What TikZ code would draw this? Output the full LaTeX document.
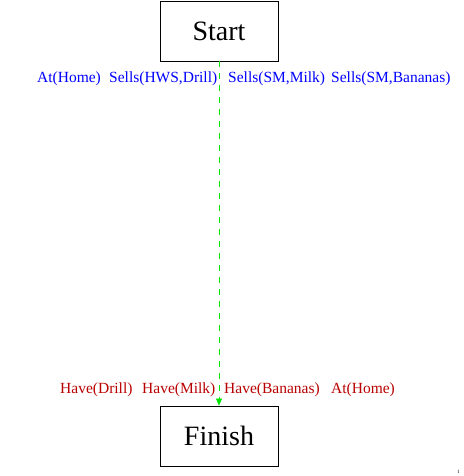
\documentclass[tikz,border=0pt]{standalone}
\usepackage{fontspec}
\setmainfont{Liberation Serif}
\usetikzlibrary{arrows.meta}
\definecolor{lblue}{RGB}{0,0,255}
\definecolor{lred}{RGB}{185,0,0}
\definecolor{lgreen}{RGB}{0,230,0}
\tikzset{
  stepbox/.style={draw=black, line width=0.8pt, minimum width=118pt, minimum height=60pt, inner sep=0pt, font=\fontsize{28}{32}\selectfont},
  eff/.style={text=lblue, anchor=west, inner sep=0pt, font=\fontsize{15.5}{18}\selectfont},
  pre/.style={text=lred, anchor=west, inner sep=0pt, font=\fontsize{15.5}{18}\selectfont},
  link/.style={draw=lgreen, line width=0.6pt, dash pattern=on 6pt off 6pt, -{Triangle[length=7pt,width=6pt]}}
}
\begin{document}
\begin{tikzpicture}[x=1pt,y=-1pt]
\useasboundingbox (0,0) rectangle (463,476);
\node[stepbox] (start) at (219,31) {Start};
\node[stepbox] (finish) at (219,436) {Finish};
\node[eff] (e1) at (37,79) {At(Home)};
\node[eff] (e2) at (109,79) {Sells(HWS,Drill)};
\node[eff] (e3) at (228,79) {Sells(SM,Milk)};
\node[eff] (e4) at (331,79) {Sells(SM,Bananas)};
\node[pre] (p1) at (60,390) {Have(Drill)};
\node[pre] (p2) at (142,390) {Have(Milk)};
\node[pre] (p3) at (224,390) {Have(Bananas)};
\node[pre] (p4) at (331,390) {At(Home)};
\node[anchor=south east, inner sep=0pt, font=\fontsize{5}{6}\selectfont] (pg) at (460,474) {1};
\draw[link] (start.south) -- (finish.north);
\end{tikzpicture}
\end{document}
